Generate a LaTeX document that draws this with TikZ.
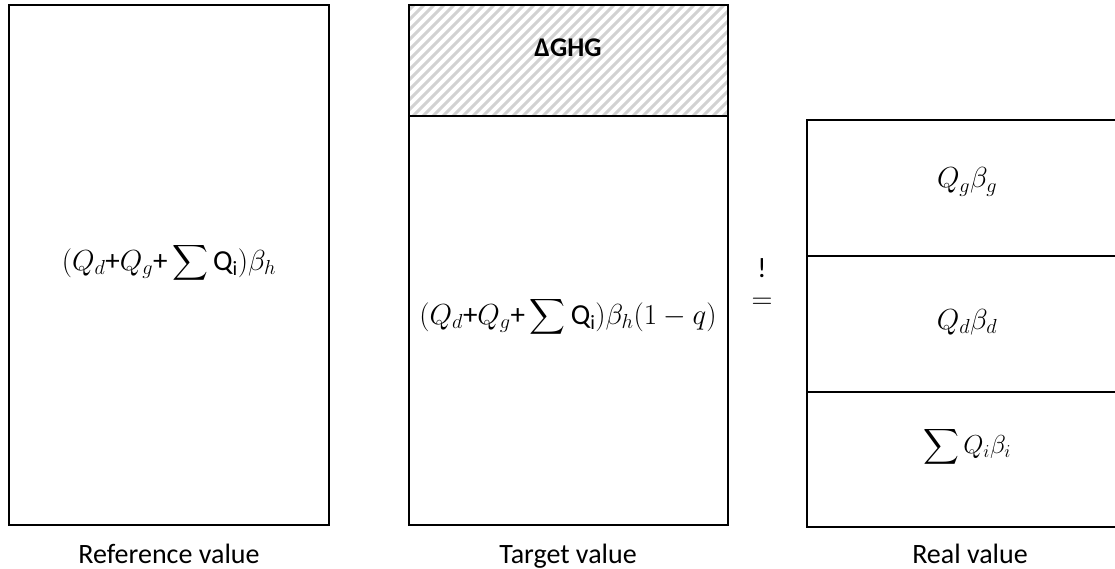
\RequirePackage{fix-cm}
\documentclass[tikz,border=0pt]{standalone}
\usepackage{amsmath}
\usepackage{fontspec}
\setmainfont{Carlito}
\begin{document}
\begin{tikzpicture}[x=1pt,y=-1pt,
  box/.style={draw=black,line width=1.8pt,inner sep=0pt},
  txt/.style={inner sep=0pt,font=\fontsize{28}{33}\selectfont},
  mth/.style={inner sep=0pt,font=\fontsize{29}{34}\selectfont},
  lbl/.style={inner sep=0pt,anchor=base,font=\fontsize{28}{33}\selectfont},
  hatchline/.style={draw={rgb,255:red,210;green,210;blue,210},line width=3pt}]
\clip (0,0) rectangle (1115,569);
% reference
\node[box,minimum width=320pt,minimum height=520pt] (ref) at (169,265) {};
\node[mth] (reff) at (169,263) {$(Q_d\text{+}Q_g\text{+}\displaystyle\sum\text{Q}_{\text{i}})\beta_h$};
\node[lbl] (refl) at (169,563) {Reference value};
% target
\begin{scope}
  \clip (409,5) rectangle (728,116);
  \foreach \i in {-140,-130,...,330}
    \draw[hatchline] (409+\i,120) -- ++(130,-130);
\end{scope}
\node[box,minimum width=319pt,minimum height=111pt] (ghg) at (568.5,60.5) {};
\node[txt,font=\fontsize{27}{32}\selectfont\bfseries] (ghgt) at (568,48) {ΔGHG};
\node[box,minimum width=319pt,minimum height=409pt] (tgt) at (568.5,320.5) {};
\node[mth] (tgtf) at (568,317) {$(Q_d\text{+}Q_g\text{+}\displaystyle\sum\text{Q}_{\text{i}})\beta_h(1-q)$};
\node[lbl] (tgtl) at (568,563) {Target value};
% equals
\node[txt] (bang) at (762,268) {!};
\node[mth] (eq) at (762,303) {$=$};
% real
\node[box,minimum width=320pt,minimum height=136pt] (rg) at (967,188) {};
\node[box,minimum width=320pt,minimum height=136pt] (rd) at (967,324) {};
\node[box,minimum width=320pt,minimum height=135pt] (ri) at (967,459.5) {};
\node[mth] (rgt) at (967,182) {$Q_g\beta_g$};
\node[mth] (rdt) at (967,322) {$Q_d\beta_d$};
\node[mth,font=\fontsize{26}{31}\selectfont] (rit) at (967,447) {$\displaystyle\sum Q_{i}\beta_i$};
\node[lbl] (reall) at (970,563) {Real value};
\end{tikzpicture}
\end{document}
